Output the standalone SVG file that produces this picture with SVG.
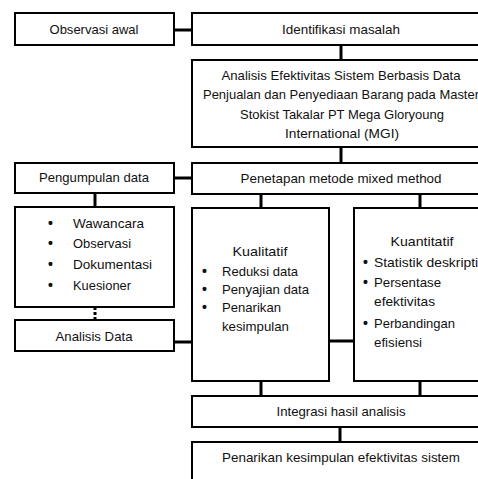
<svg xmlns="http://www.w3.org/2000/svg" width="478" height="479" viewBox="0 0 478 479">
<style>
.box{fill:#fff;stroke:#000;stroke-width:2}
.con{stroke:#000;stroke-width:3;fill:none}
.dot{stroke:#000;stroke-width:3;stroke-dasharray:3 2;fill:none}
text{font-family:"Liberation Sans",Arial,sans-serif;font-size:13px;fill:#111}
.c{text-anchor:middle}
.b{font-size:14px;font-weight:bold}
</style>
<rect width="478" height="479" fill="#fff"/>
<g id="connectors">
<line class="con" x1="174" y1="30" x2="192" y2="30"/>
<line class="con" x1="341" y1="45" x2="341" y2="60"/>
<line class="con" x1="341" y1="147" x2="341" y2="163"/>
<line class="con" x1="174" y1="178" x2="192" y2="178"/>
<line class="con" x1="95" y1="193" x2="95" y2="207"/>
<line class="dot" x1="95" y1="307" x2="95" y2="320"/>
<line class="con" x1="261" y1="194" x2="261" y2="208"/>
<line class="con" x1="420" y1="194" x2="420" y2="208"/>
<line class="con" x1="174" y1="342" x2="192" y2="342"/>
<line class="con" x1="329" y1="341" x2="354" y2="341"/>
<line class="con" x1="261" y1="381" x2="261" y2="396"/>
<line class="con" x1="420" y1="381" x2="420" y2="396"/>
<line class="con" x1="340" y1="427" x2="340" y2="442"/>
</g>
<g id="observasi-awal"><rect class="box" x="15" y="13" width="159" height="32"/><text class="c" x="94" y="34" textLength="89" lengthAdjust="spacingAndGlyphs">Observasi awal</text></g>
<g id="identifikasi"><rect class="box" x="192" y="13" width="300" height="32"/><text class="c" x="341" y="34" textLength="118" lengthAdjust="spacingAndGlyphs">Identifikasi masalah</text></g>
<g id="judul"><rect class="box" x="192" y="60" width="300" height="87"/>
<text class="c" x="341" y="80" textLength="239" lengthAdjust="spacingAndGlyphs">Analisis Efektivitas Sistem Berbasis Data</text>
<text class="c" x="341" y="99" textLength="276" lengthAdjust="spacingAndGlyphs">Penjualan dan Penyediaan Barang pada Master</text>
<text class="c" x="342" y="119" textLength="204" lengthAdjust="spacingAndGlyphs">Stokist Takalar PT Mega Gloryoung</text>
<text class="c" x="342" y="138" textLength="114" lengthAdjust="spacingAndGlyphs">International (MGI)</text></g>
<g id="pengumpulan"><rect class="box" x="15" y="163" width="159" height="30"/><text class="c" x="94" y="182" textLength="110" lengthAdjust="spacingAndGlyphs">Pengumpulan data</text></g>
<g id="penetapan"><rect class="box" x="192" y="163" width="300" height="31"/><text class="c" x="341" y="183" textLength="201" lengthAdjust="spacingAndGlyphs">Penetapan metode mixed method</text></g>
<g id="teknik"><rect class="box" x="15" y="207" width="159" height="100"/>
<text class="b" x="48" y="228">•</text><text x="73" y="228" textLength="71" lengthAdjust="spacingAndGlyphs">Wawancara</text>
<text class="b" x="48" y="248">•</text><text x="73" y="248" textLength="58" lengthAdjust="spacingAndGlyphs">Observasi</text>
<text class="b" x="48" y="269">•</text><text x="73" y="269" textLength="79" lengthAdjust="spacingAndGlyphs">Dokumentasi</text>
<text class="b" x="48" y="290">•</text><text x="73" y="290" textLength="58" lengthAdjust="spacingAndGlyphs">Kuesioner</text></g>
<g id="analisis-data"><rect class="box" x="15" y="320" width="159" height="31"/><text class="c" x="94" y="341" textLength="77" lengthAdjust="spacingAndGlyphs">Analisis Data</text></g>
<g id="kualitatif"><rect class="box" x="192" y="208" width="137" height="173"/>
<text class="c" x="260" y="256" textLength="55" lengthAdjust="spacingAndGlyphs">Kualitatif</text>
<text class="b" x="202" y="276">•</text><text x="222" y="276" textLength="76" lengthAdjust="spacingAndGlyphs">Reduksi data</text>
<text class="b" x="202" y="294">•</text><text x="222" y="294" textLength="87" lengthAdjust="spacingAndGlyphs">Penyajian data</text>
<text class="b" x="202" y="312">•</text><text x="222" y="312" textLength="59" lengthAdjust="spacingAndGlyphs">Penarikan</text>
<text x="222" y="331" textLength="67" lengthAdjust="spacingAndGlyphs">kesimpulan</text></g>
<g id="kuantitatif"><rect class="box" x="354" y="208" width="140" height="173"/>
<text class="c" x="422" y="246" textLength="63" lengthAdjust="spacingAndGlyphs">Kuantitatif</text>
<text class="b" x="363" y="267">•</text><text x="374" y="267" textLength="108" lengthAdjust="spacingAndGlyphs">Statistik deskriptif</text>
<text class="b" x="363" y="287">•</text><text x="374" y="287" textLength="67" lengthAdjust="spacingAndGlyphs">Persentase</text>
<text x="374" y="306" textLength="61" lengthAdjust="spacingAndGlyphs">efektivitas</text>
<text class="b" x="363" y="328">•</text><text x="374" y="328" textLength="81" lengthAdjust="spacingAndGlyphs">Perbandingan</text>
<text x="374" y="347" textLength="48" lengthAdjust="spacingAndGlyphs">efisiensi</text></g>
<g id="integrasi"><rect class="box" x="192" y="396" width="300" height="31"/><text class="c" x="341" y="416" textLength="129" lengthAdjust="spacingAndGlyphs">Integrasi hasil analisis</text></g>
<g id="penarikan"><rect class="box" x="192" y="442" width="300" height="50"/><text class="c" x="341" y="462" textLength="238" lengthAdjust="spacingAndGlyphs">Penarikan kesimpulan efektivitas sistem</text></g>
</svg>
